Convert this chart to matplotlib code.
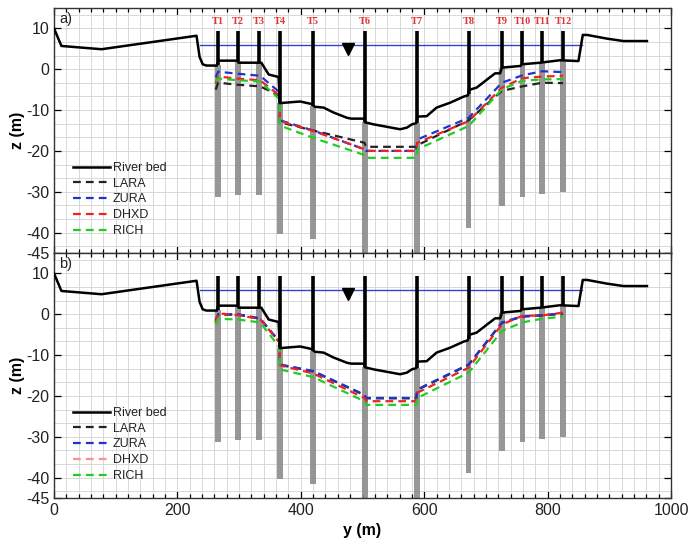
import numpy as np
import matplotlib
matplotlib.use("Agg")
import matplotlib.pyplot as plt
from matplotlib.lines import Line2D
from matplotlib.ticker import MultipleLocator, FixedLocator

plt.rcParams['font.family'] = ['Liberation Sans', 'DejaVu Sans']
plt.rcParams['axes.unicode_minus'] = False

# ---------------- data ----------------
bed_y = [0, 12, 77, 231, 236, 241, 247, 264, 266, 298, 299, 336, 348, 364, 366, 399, 417, 423, 437,
         453, 475, 482, 503, 504, 518, 561, 572, 580, 587, 589, 604, 620, 631, 642, 664, 671,
         672, 685, 702, 715, 723, 726, 756, 758, 788, 820, 850, 857, 864, 896, 923, 961]
bed_z = [10, 5.7, 4.9, 8.2, 3.0, 1.2, 0.9, 0.9, 2.1, 2.1, 1.6, 1.6, -1.3, -1.9, -8.3, -7.9, -8.5, -9.2, -9.4,
         -10.6, -11.9, -12.1, -12.1, -13.0, -13.5, -14.7, -14.3, -13.5, -13.2, -11.6, -11.5, -9.4, -8.8, -8.2, -6.7, -6.4,
         -5.1, -4.5, -2.5, -1.0, -1.0, 0.4, 0.8, 1.2, 1.6, 2.2, 2.0, 8.4, 8.4, 7.5, 6.9, 6.9]

water_y = [236, 856]
water_z = [6.0, 6.0]
marker_y = 476
marker_z = 4.9

pile_names = ['T1', 'T2', 'T3', 'T4', 'T5', 'T6', 'T7', 'T8', 'T9', 'T10', 'T11', 'T12']
pile_y = [266, 298, 332, 366, 420, 504, 588, 672, 726, 759, 791, 825]
pile_top = 9.3
pile_head = [1.0, 2.0, 1.6, -8.3, -9.0, -13.0, -13.2, -6.0, 0.4, 1.2, 1.6, 2.2]
pile_tip = [-31.3, -30.8, -30.9, -40.3, -41.5, -47.0, -47.0, -39.0, -33.4, -31.3, -30.5, -30.0]

# scour profiles: y positions shared by all series
s_y = [262, 266, 298, 334, 366, 366, 420, 503, 506, 587, 589, 672, 726, 759, 791, 825]

lara_a = [-5.0, -3.3, -3.8, -4.2, -6.5, -13.0, -15.0, -18.0, -19.0, -19.0, -18.6, -12.5, -5.3, -4.2, -3.3, -3.4]
zura_a = [-2.0, -0.6, -1.1, -1.6, -5.7, -12.5, -15.0, -19.6, -20.0, -20.0, -17.2, -11.9, -3.3, -1.5, -0.5, -0.7]
dhxd_a = [-3.5, -1.8, -2.3, -2.7, -6.5, -12.7, -15.1, -19.6, -20.0, -20.0, -18.0, -12.7, -4.5, -2.2, -1.8, -1.6]
rich_a = [-3.0, -2.3, -2.7, -3.0, -7.4, -13.8, -16.8, -21.0, -21.7, -21.7, -19.6, -13.9, -4.9, -2.8, -2.5, -2.4]

lara_b = [-1.6, -0.1, -0.1, -1.1, -6.9, -12.4, -14.0, -19.8, -20.6, -20.6, -18.5, -12.4, -2.1, -0.6, -0.3, 0.1]
zura_b = [-1.5, 0.0, 0.0, -1.0, -6.8, -12.3, -13.9, -19.7, -20.5, -20.5, -18.4, -12.3, -2.0, -0.5, -0.2, 0.2]
dhxd_b = [-2.0, 0.2, -0.2, -1.2, -7.0, -12.5, -14.5, -20.5, -21.3, -21.3, -19.2, -13.1, -2.5, -0.4, -0.3, 0.4]
rich_b = [-2.5, -1.1, -1.3, -2.0, -8.2, -13.5, -15.4, -21.3, -22.2, -22.2, -20.5, -14.3, -4.1, -2.0, -1.1, -0.6]

series_names = ['LARA', 'ZURA', 'DHXD', 'RICH']
series_colors = ['#222222', '#2233cc', '#ee2222', '#22cc22']

x_ticks = [0, 200, 400, 600, 800, 1000]
y_ticks = [-45, -40, -30, -20, -10, 0, 10]

# ---------------- figure ----------------
fig = plt.figure(figsize=(6.88, 5.43), dpi=100)
ax_a = fig.add_axes([0.0785, 0.5341, 0.8968, 0.4512])
ax_b = fig.add_axes([0.0785, 0.0829, 0.8968, 0.4512])

def draw(ax, data, panel, legend_colors):
    ax.set_xlim(0, 1000)
    ax.set_ylim(-45, 15)
    ax.xaxis.set_major_locator(FixedLocator(x_ticks))
    ax.xaxis.set_minor_locator(MultipleLocator(20))
    ax.yaxis.set_major_locator(FixedLocator(y_ticks))
    ax.yaxis.set_minor_locator(MultipleLocator(10 / 3))
    ax.grid(True, which='both', color='#d8d8d8', linewidth=0.7)
    ax.set_axisbelow(True)
    ax.tick_params(which='both', direction='in', top=True, right=True, labelsize=11.5,
                   labelcolor='#222222')
    ax.tick_params(which='major', length=5, width=0.9)
    ax.tick_params(axis='x', which='minor', length=3, width=0.9)
    ax.tick_params(axis='y', which='minor', length=0)
    for sp in ax.spines.values():
        sp.set_linewidth(1.0)
        sp.set_color('#333333')

    # pile grey bars
    heights = [h - t for h, t in zip(pile_head, pile_tip)]
    ax.bar(pile_y, heights, bottom=pile_tip, width=9, color='#8c8c8c', alpha=0.9, zorder=2)

    # water level
    ax.plot(water_y, water_z, color='#3344cc', linewidth=1.0, zorder=3)

    # scour series
    for vals, c in zip(data, series_colors):
        ax.plot(s_y, vals, color=c, linewidth=1.6, dashes=(3.5, 2.3), zorder=4)

    # pile black top lines
    ax.vlines(pile_y, pile_head, pile_top, color='black', linewidth=2.6, zorder=5)

    # river bed
    ax.plot(bed_y, bed_z, color='black', linewidth=1.8, zorder=5)

    # water marker
    ax.plot([marker_y], [marker_z], marker='v', color='black', markersize=9, zorder=6)

    ax.text(0.008, 0.985, panel, transform=ax.transAxes, ha='left', va='top', fontsize=10.5,
            color='#222222')

    handles = [Line2D([0], [0], color='black', linewidth=1.8, label='River bed')]
    for n, c in zip(series_names, legend_colors):
        handles.append(Line2D([0], [0], color=c, linewidth=1.6, dashes=(3.5, 2.3), label=n))
    leg = ax.legend(handles=handles, loc='lower left', bbox_to_anchor=(0.018, 0.035), frameon=False,
                    fontsize=9, handlelength=3.0, handletextpad=0.2, labelspacing=0.3,
                    borderaxespad=0.2)
    for t in leg.get_texts():
        t.set_color('#222222')
    ax.set_ylabel('z (m)', fontsize=11.5, fontweight='bold', labelpad=1)

draw(ax_a, [lara_a, zura_a, dhxd_a, rich_a], 'a)', series_colors)
draw(ax_b, [lara_b, zura_b, dhxd_b, rich_b], 'b)', ['#222222', '#2233cc', '#ff8f8f', '#22cc22'])

ax_a.tick_params(labelbottom=False)
for name, py in zip(pile_names, pile_y):
    ax_a.text(py, 11.7, name, color='#e53333', fontsize=7.5, fontweight='bold',
              family=['Liberation Serif', 'DejaVu Serif'], ha='center', va='center', zorder=7)

ax_b.set_xlabel('y (m)', fontsize=11.5, fontweight='bold', labelpad=4)

fig.savefig('out.png', dpi=100)
